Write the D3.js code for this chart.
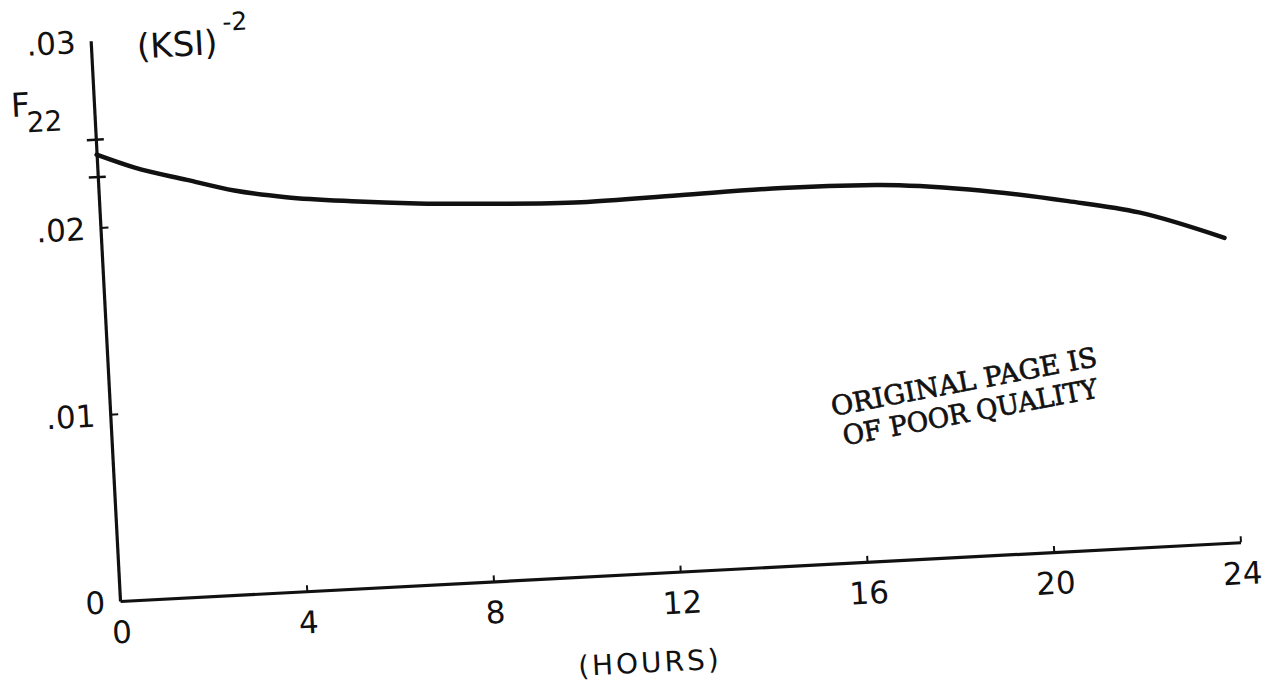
<!DOCTYPE html>
<html>
<head>
<meta charset="utf-8">
<script src="https://cdn.jsdelivr.net/npm/d3@7"></script>
<style>
  body { margin: 0; background: #fff; }
  text { fill: #111; }
</style>
</head>
<body>
<svg id="chart" width="1265" height="684"></svg>
<script>
// values
const hours = [0, 0.8, 1.9, 2.9, 4, 5.4, 6.8, 8.2, 10.3, 12.4, 14.6, 16.6, 18.6, 20.7, 22.2, 24];
const f22 = [0.0239, 0.0231, 0.0223, 0.0216, 0.0211, 0.0207, 0.0204, 0.0202, 0.0200, 0.0201, 0.0202, 0.0201, 0.0196, 0.0187, 0.0179, 0.0163];
const xTicks = [0, 4, 8, 12, 16, 20, 24];
const xTickLabels = ['0', '4', '8', '12', '16', '20', '24'];
const yTicks = [0, 0.01, 0.02, 0.03];
const yTickLabels = ['0', '.01', '.02', '.03'];
const startRange = [0.0227, 0.0247];  // bracket marks at t = 0
const stampLines = ['ORIGINAL PAGE IS', 'OF POOR QUALITY'];

const svg = d3.select('#chart');
const font = '"DejaVu Sans", sans-serif';

// the scan is tilted about 3 degrees, so the whole plot frame is rotated
const origin = { x: 120, y: 601 };
const tilt = -3;
const g = svg.append('g')
  .attr('transform', `translate(${origin.x},${origin.y}) rotate(${tilt})`);

const x = d3.scaleLinear().domain([0, 24]).range([0, 1122]);
const y = d3.scaleLinear().domain([0, 0.03]).range([0, -561]);

// x axis, ticks pointing up
const xAxis = g.append('g')
  .call(d3.axisBottom(x)
    .tickValues(xTicks)
    .tickFormat((d, i) => xTickLabels[i])
    .tickSizeInner(-6)
    .tickSizeOuter(0)
    .tickPadding(20));

// y axis, ticks pointing right
const yAxis = g.append('g')
  .call(d3.axisLeft(y)
    .tickValues(yTicks)
    .tickFormat((d, i) => yTickLabels[i])
    .tickSizeInner(-8)
    .tickSizeOuter(0)
    .tickPadding(15));

[xAxis, yAxis].forEach(ax => {
  ax.attr('font-family', null).attr('font-size', null);
  ax.select('.domain').attr('stroke', '#111').attr('stroke-width', 3.2);
  ax.selectAll('.tick line').attr('stroke', '#111').attr('stroke-width', 2);
  ax.selectAll('.tick text')
    .style('font-family', font)
    .style('font-size', '31px')
    .attr('fill', '#111');
});
yAxis.selectAll('.tick line').filter(d => d === 0 || d === 0.03).remove();
yAxis.selectAll('.tick text').attr('dy', '0.36em');

// bracket marks on the axis at the start of the curve
g.selectAll('.bracket')
  .data(startRange)
  .enter()
  .append('path')
  .attr('class', 'bracket')
  .attr('d', d => `M-9,${y(d)} L8,${y(d)}`)
  .attr('stroke', '#111')
  .attr('stroke-width', 2.5)
  .attr('fill', 'none');

// the F22 curve
const line = d3.line()
  .x((d, i) => x(hours[i]))
  .y(d => y(d))
  .curve(d3.curveMonotoneX);

g.append('path')
  .datum(f22)
  .attr('d', line)
  .attr('fill', 'none')
  .attr('stroke', '#111')
  .attr('stroke-width', 4.5)
  .attr('stroke-linecap', 'round');

// axis titles
const unit = g.append('text')
  .attr('x', 46)
  .attr('y', -541)
  .style('font-family', font)
  .style('font-size', '34px');
unit.append('tspan').text('(KSI)');
unit.append('tspan')
  .attr('dx', 6)
  .attr('dy', -23)
  .style('font-size', '25px')
  .text('-2');

const fLabel = g.append('text')
  .attr('x', -83)
  .attr('y', -489)
  .style('font-family', font)
  .style('font-size', '33px');
fLabel.append('tspan').text('F');
fLabel.append('tspan')
  .attr('dx', -4)
  .attr('dy', 16)
  .style('font-size', '28px')
  .text('22');

g.append('text')
  .attr('x', x(11.25))
  .attr('y', 99)
  .attr('text-anchor', 'middle')
  .style('font-family', font)
  .style('font-size', '28px')
  .style('letter-spacing', '3px')
  .text('(HOURS)');

// the stamp, tilted on its own
const stamp = svg.append('g')
  .attr('transform', 'translate(833,416) rotate(-10.7)');

stamp.selectAll('text')
  .data(stampLines)
  .enter()
  .append('text')
  .attr('x', (d, i) => i === 0 ? 0 : 6)
  .attr('y', (d, i) => i * 31)
  .attr('textLength', (d, i) => i === 0 ? 270 : 259)
  .attr('lengthAdjust', 'spacingAndGlyphs')
  .style('font-family', '"DejaVu Serif", serif')
  .style('font-size', '27px')
  .style('stroke', '#111')
  .style('stroke-width', 0.7)
  .text(d => d);
</script>
</body>
</html>
